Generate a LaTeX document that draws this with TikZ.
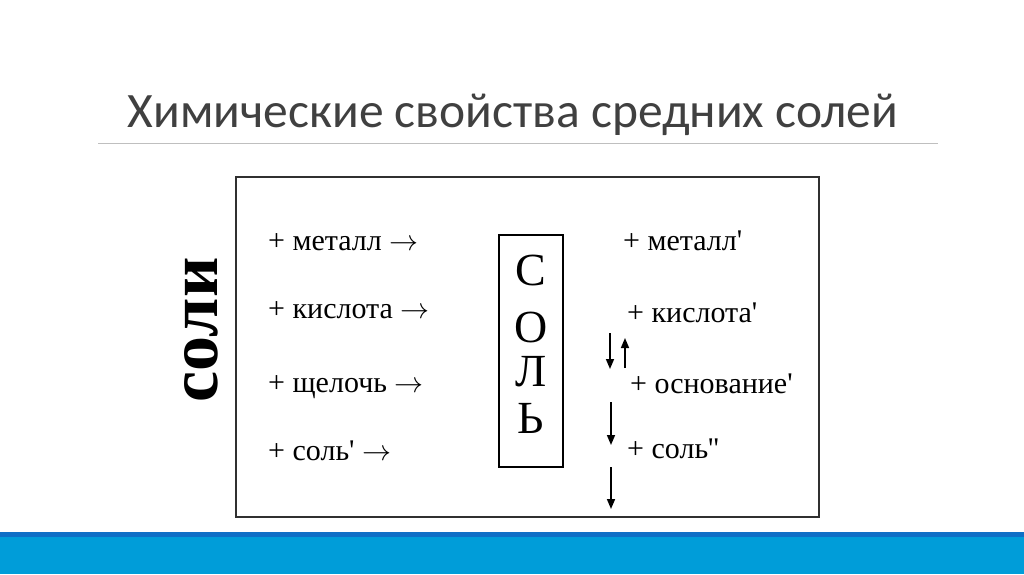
\documentclass[tikz,border=0pt]{standalone}
\usepackage{fontspec}
\usepackage{graphicx}
\setmainfont{Liberation Serif}
\newfontfamily\itemfont{Liberation Serif}[Ligatures=TeXOff]
\newfontfamily\titlefont{Carlito}
\usetikzlibrary{arrows.meta}
\definecolor{titlegray}{HTML}{404040}
\definecolor{rulegray}{HTML}{BFBFBF}
\definecolor{bardark}{HTML}{0F6FC6}
\definecolor{barlight}{HTML}{009DD9}
\definecolor{boxgray}{HTML}{303030}
\newcommand{\rarr}{\resizebox{29pt}{!}{$\rightarrow$}}
\tikzset{
  item/.style={anchor=base west, inner sep=0pt, font=\itemfont\fontsize{30}{32}\selectfont},
  letter/.style={anchor=base, inner sep=0pt, font=\fontsize{46}{50}\selectfont},
  vert/.style={line width=1.6pt, -{Triangle[length=10pt,width=8pt]}},
}
\begin{document}
\begin{tikzpicture}[x=1pt,y=-1pt]
\useasboundingbox (0,0) rectangle (1024,574);
\fill[white] (0,0) rectangle (1024,574);
% title
\node[anchor=base, inner sep=0pt, text=titlegray, font=\titlefont\fontsize{49.5}{56}\selectfont] (title) at (513,127) {Химические свойства средних солей};
\draw[rulegray, line width=1pt] (98,143.5) coordinate (rl) -- (938,143.5) coordinate (rr);
% bottom bars
\fill[bardark] (0,531.5) rectangle (1024,537);
\fill[barlight] (0,537) rectangle (1024,574);
% main box
\draw[boxgray, line width=2pt] (236,177) rectangle (819,517);
% vertical label
\node[rotate=90, inner sep=0pt, font=\fontsize{70}{75}\selectfont\bfseries] (soli) at (201,330) {соли};
% left items
\node[item] (l1) at (268,250) {+ металл \rarr};
\node[item] (l2) at (268,318) {+ кислота \rarr};
\node[item] (l3) at (268,392) {+ щелочь \rarr};
\node[item] (l4) at (268,460) {+ соль' \rarr};
% salt box
\draw[black, line width=1.6pt] (499,235) rectangle (563,467);
\node[letter] (s1) at (531,285) {С};
\node[letter] (s2) at (531,342) {О};
\node[letter] (s3) at (531,386) {Л};
\node[letter] (s4) at (531,433) {Ь};
% right items
\node[item] (r1) at (623,250) {+ металл'};
\node[item] (r2) at (627,322) {+ кислота'};
\node[item] (r3) at (630,393) {+ основание'};
\node[item] (r4) at (627,458) {+ соль''};
% arrows
\coordinate (a1s) at (610,333); \coordinate (a1e) at (610,369);
\coordinate (a2s) at (625,368); \coordinate (a2e) at (625,338);
\coordinate (a3s) at (611,402); \coordinate (a3e) at (611,445);
\coordinate (a4s) at (611,467); \coordinate (a4e) at (611,509);
\draw[vert] (a1s) -- (a1e);
\draw[vert] (a2s) -- (a2e);
\draw[vert] (a3s) -- (a3e);
\draw[vert] (a4s) -- (a4e);
\end{tikzpicture}
\end{document}
